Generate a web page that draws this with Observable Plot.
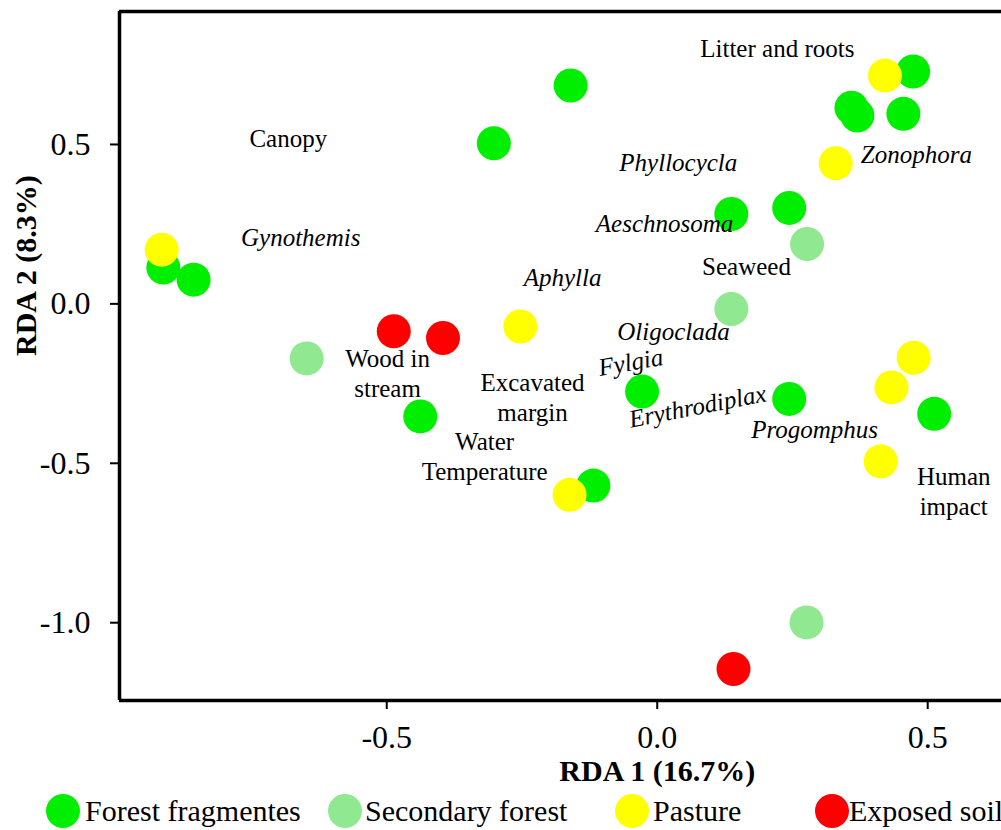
<!DOCTYPE html>
<html>
<head>
<meta charset="utf-8">
<script src="https://cdn.jsdelivr.net/npm/d3@7"></script>
<script src="https://cdn.jsdelivr.net/npm/@observablehq/plot@0.6"></script>
<style>
  body { margin: 0; background: #fff; overflow: hidden; font-family: "Liberation Serif", "Times New Roman", serif; color: #000; }
  #legend { position: relative; width: 1001px; height: 38px; }
  .item { position: absolute; top: 2px; display: flex; align-items: center; white-space: nowrap; font-size: 30px; line-height: 34px; }
  .sw { width: 34px; height: 34px; border-radius: 50%; display: inline-block; flex: none; }
</style>
</head>
<body>
<div id="chart"></div>
<div id="legend"></div>
<script>
// ---- data ----
const groups = ["Forest fragmentes", "Secondary forest", "Pasture", "Exposed soil"];
const groupColors = ["#00ee00", "#90e890", "#ffff00", "#ff0000"];

const forestX = [-0.913, -0.857, -0.160, -0.302, 0.473, 0.359, 0.370, 0.455, 0.137, 0.244, -0.438, -0.028, -0.118, 0.244, 0.512];
const forestY = [0.114, 0.076, 0.685, 0.504, 0.729, 0.615, 0.591, 0.596, 0.282, 0.301, -0.353, -0.275, -0.570, -0.298, -0.345];

const secondaryX = [0.277, 0.137, -0.648, 0.276];
const secondaryY = [0.188, -0.016, -0.171, -0.999];

const pastureX = [-0.916, 0.421, 0.330, -0.253, -0.162, 0.474, 0.433, 0.413];
const pastureY = [0.170, 0.716, 0.441, -0.071, -0.599, -0.169, -0.262, -0.494];

const soilX = [-0.487, -0.396, 0.141];
const soilY = [-0.086, -0.107, -1.145];

// environmental variables (roman)
const envLabels = ["Canopy", "Litter and roots", "Seaweed", "Wood in\nstream", "Excavated\nmargin", "Water\nTemperature", "Human\nimpact"];
const envX = [-0.682, 0.222, 0.165, -0.4985, -0.2305, -0.319, 0.548];
const envY = [0.522, 0.804, 0.120, -0.2155, -0.291, -0.476, -0.584];

// species (italic)
const spLabels = ["Gynothemis", "Phyllocycla", "Zonophora", "Aeschnosoma", "Aphylla", "Oligoclada", "Fylgia", "Erythrodiplax", "Progomphus"];
const spX = [-0.659, 0.039, 0.479, 0.0135, -0.175, 0.030, -0.049, 0.0745, 0.291];
const spY = [0.208, 0.443, 0.468, 0.249, 0.0825, -0.087, -0.184, -0.322, -0.397];
const spAngle = [0, 0, 0, 0, 0, 0, -10, -11, 0];

const xTicks = [-0.5, 0.0, 0.5];
const yTicks = [-1.0, -0.5, 0.0, 0.5];
const xDomain = [-0.994, 0.6364];
const yDomain = [-1.244, 0.917];
const xTitle = "RDA 1 (16.7%)";
const yTitle = "RDA 2 (8.3%)";

// ---- build tables ----
const seriesX = [forestX, secondaryX, pastureX, soilX];
const seriesY = [forestY, secondaryY, pastureY, soilY];
const sites = [];
groups.forEach((g, i) => seriesX[i].forEach((x, j) => sites.push({group: g, x, y: seriesY[i][j]})));
const env = envLabels.map((t, i) => ({t, x: envX[i], y: envY[i]}));
const sp = spLabels.map((t, i) => ({t, x: spX[i], y: spY[i], a: spAngle[i]}));

const fmt = d => d.toFixed(1);

const chart = Plot.plot({
  width: 1001,
  height: 792,
  marginLeft: 119,
  marginRight: 0,
  marginTop: 11,
  marginBottom: 92,
  style: {fontFamily: "'Liberation Serif', 'Times New Roman', serif", fontSize: "32px", background: "#fff", color: "#000"},
  x: {domain: xDomain},
  y: {domain: yDomain},
  color: {domain: groups, range: groupColors},
  marks: [
    Plot.axisX({ticks: xTicks, tickFormat: fmt, tickSize: 9, tickPadding: 16, fontSize: 32, strokeWidth: 2, label: null}),
    Plot.axisY({ticks: yTicks, tickFormat: fmt, tickSize: 9, tickPadding: 20, fontSize: 32, strokeWidth: 2, label: null}),
    Plot.ruleX([xDomain[0]], {strokeWidth: 3.5, stroke: "#000"}),
    Plot.ruleY(yDomain, {strokeWidth: 3.5, stroke: "#000"}),
    Plot.dot(sites, {x: "x", y: "y", fill: "group", r: 17}),
    Plot.text(env, {x: "x", y: "y", text: "t", fontSize: 25, lineHeight: 1.2, fill: "#000"}),
    Plot.text(sp, {x: "x", y: "y", text: "t", rotate: "a", fontSize: 25, fontStyle: "italic", fill: "#000"}),
    Plot.text([xTitle], {x: () => 0, frameAnchor: "bottom", dy: 80, fontSize: 30, fontWeight: "bold", fill: "#000"}),
    Plot.text([yTitle], {frameAnchor: "left", dx: -93, rotate: -90, fontSize: 30, fontWeight: "bold", fill: "#000"})
  ]
});
document.getElementById("chart").appendChild(chart);

// ---- legend ----
const legendLeft = [46, 328, 615, 815];
const legendGap = [5, 3, 4, 0];
const legend = document.getElementById("legend");
groups.forEach((g, i) => {
  const item = document.createElement("div");
  item.className = "item";
  item.style.left = legendLeft[i] + "px";
  const sw = document.createElement("span");
  sw.className = "sw";
  sw.style.background = groupColors[i];
  const label = document.createElement("span");
  label.textContent = g;
  label.style.marginLeft = legendGap[i] + "px";
  item.appendChild(sw);
  item.appendChild(label);
  legend.appendChild(item);
});
</script>
</body>
</html>
